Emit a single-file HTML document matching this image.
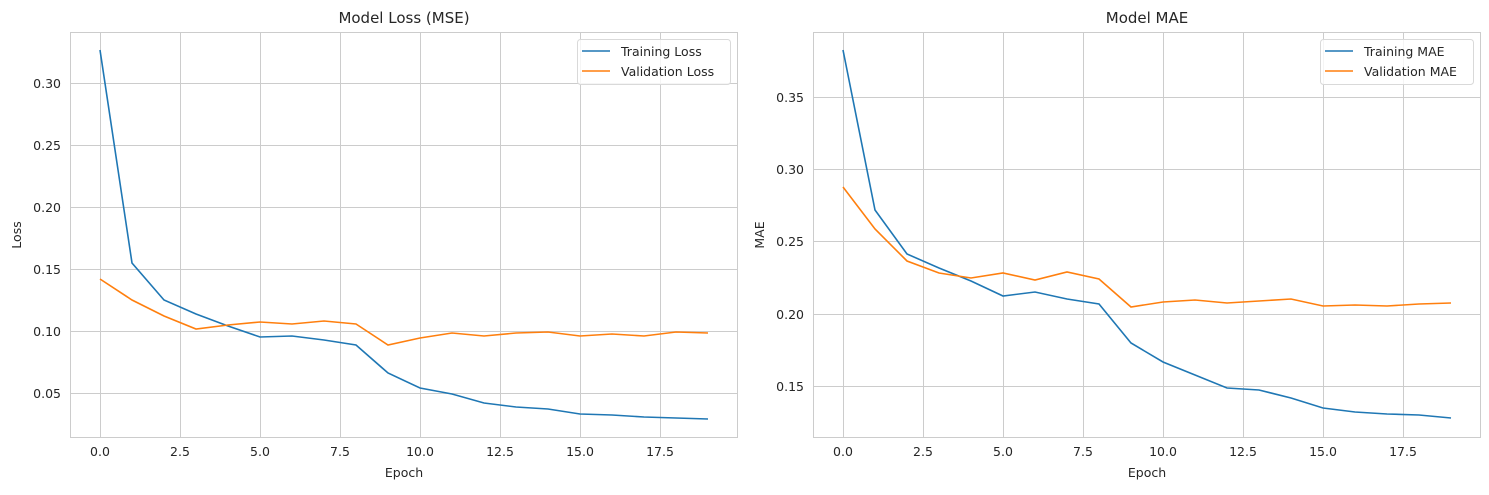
<!DOCTYPE html>
<html><head><meta charset="utf-8"><style>
html,body{margin:0;padding:0;background:#fff;}
svg text{font-family:"DejaVu Sans","Liberation Sans",sans-serif;fill:#262626;}
</style></head><body>
<svg width="1489" height="490" viewBox="0 0 1489 490" xmlns="http://www.w3.org/2000/svg">
<rect width="1489" height="490" fill="#fff"/>
<!-- LEFT -->
<g stroke="#cccccc" stroke-width="1" fill="none">
<rect x="70.5" y="32.5" width="667" height="405"/>
<path d="M100.5 32V437M180.5 32V437M260.5 32V437M340.5 32V437M420.5 32V437M500.5 32V437M580.5 32V437M660.5 32V437"/>
<path d="M70 393.5H738M70 331.5H738M70 269.5H738M70 207.5H738M70 145.5H738M70 83.5H738"/>
</g>
<g font-size="12.5" text-anchor="end">
<text x="61" y="398">0.05</text><text x="61" y="336">0.10</text><text x="61" y="274">0.15</text><text x="61" y="212">0.20</text><text x="61" y="150">0.25</text><text x="61" y="88">0.30</text>
</g>
<g font-size="12.5" text-anchor="middle">
<text x="100" y="456">0.0</text><text x="180" y="456">2.5</text><text x="260" y="456">5.0</text><text x="340" y="456">7.5</text><text x="420" y="456">10.0</text><text x="500" y="456">12.5</text><text x="580" y="456">15.0</text><text x="660" y="456">17.5</text>
<text x="404" y="477">Epoch</text>
<text x="404" y="23" font-size="15">Model Loss (MSE)</text>
<text transform="translate(21,235) rotate(-90)">Loss</text>
</g>
<polyline fill="none" stroke="#1f77b4" stroke-width="1.6" points="100,50 132,263 164,300 196,314 228,326 260,337 292,336 324,340 356,345 388,373 420,388 452,394 484,403 516,407 548,409 580,414 612,415 644,417 676,418 708,419"/>
<polyline fill="none" stroke="#ff7f0e" stroke-width="1.6" points="100,279 132,300 164,316 196,329 228,325 260,322 292,324 324,321 356,324 388,345 420,338 452,333 484,336 516,333 548,332 580,336 612,334 644,336 676,332 708,333"/>
<rect x="577.5" y="39.5" width="153" height="45" rx="3" fill="#fff" fill-opacity="0.8" stroke="#d9d9d9"/>
<line x1="582" y1="51" x2="610" y2="51" stroke="#1f77b4" stroke-width="1.6"/>
<line x1="582" y1="71" x2="610" y2="71" stroke="#ff7f0e" stroke-width="1.6"/>
<text x="621" y="56" font-size="12.5">Training Loss</text>
<text x="621" y="76" font-size="12.5">Validation Loss</text>
<!-- RIGHT -->
<g stroke="#cccccc" stroke-width="1" fill="none">
<rect x="813.5" y="32.5" width="667" height="405"/>
<path d="M843.5 32V437M923.5 32V437M1003.5 32V437M1083.5 32V437M1163.5 32V437M1243.5 32V437M1323.5 32V437M1403.5 32V437"/>
<path d="M813 386.5H1481M813 314.5H1481M813 241.5H1481M813 169.5H1481M813 97.5H1481"/>
</g>
<g font-size="12.5" text-anchor="end">
<text x="804" y="391">0.15</text><text x="804" y="319">0.20</text><text x="804" y="246">0.25</text><text x="804" y="174">0.30</text><text x="804" y="102">0.35</text>
</g>
<g font-size="12.5" text-anchor="middle">
<text x="843" y="456">0.0</text><text x="923" y="456">2.5</text><text x="1003" y="456">5.0</text><text x="1083" y="456">7.5</text><text x="1163" y="456">10.0</text><text x="1243" y="456">12.5</text><text x="1323" y="456">15.0</text><text x="1403" y="456">17.5</text>
<text x="1147" y="477">Epoch</text>
<text x="1147" y="23" font-size="15">Model MAE</text>
<text transform="translate(764,235) rotate(-90)">MAE</text>
</g>
<polyline fill="none" stroke="#1f77b4" stroke-width="1.6" points="843,50 875,210 907,254 939,268 971,281 1003,296 1035,292 1067,299 1099,304 1131,343 1163,362 1195,375 1227,388 1259,390 1291,398 1323,408 1355,412 1387,414 1419,415 1451,418"/>
<polyline fill="none" stroke="#ff7f0e" stroke-width="1.6" points="843,187 875,229 907,261 939,273 971,278 1003,273 1035,280 1067,272 1099,279 1131,307 1163,302 1195,300 1227,303 1259,301 1291,299 1323,306 1355,305 1387,306 1419,304 1451,303"/>
<rect x="1320.5" y="39.5" width="153" height="45" rx="3" fill="#fff" fill-opacity="0.8" stroke="#d9d9d9"/>
<line x1="1325" y1="51" x2="1353" y2="51" stroke="#1f77b4" stroke-width="1.6"/>
<line x1="1325" y1="71" x2="1353" y2="71" stroke="#ff7f0e" stroke-width="1.6"/>
<text x="1364" y="56" font-size="12.5">Training MAE</text>
<text x="1364" y="76" font-size="12.5">Validation MAE</text>
</svg>
</body></html>
